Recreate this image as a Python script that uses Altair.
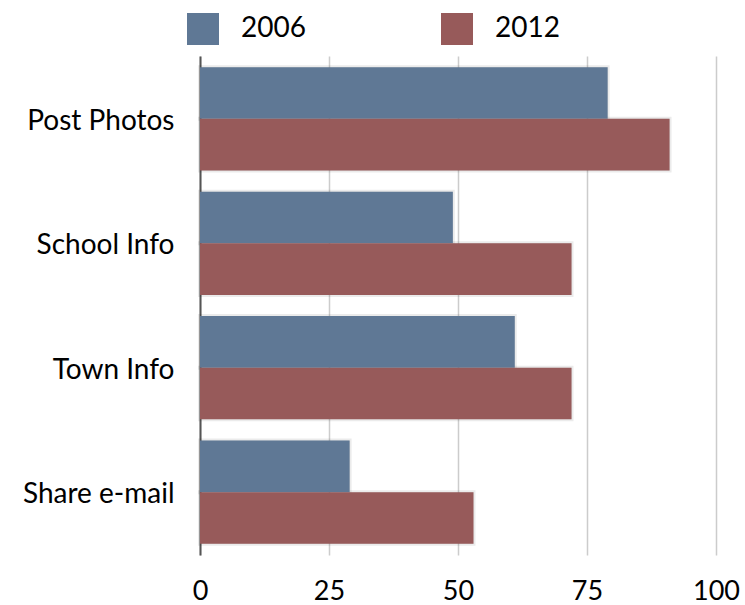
import altair as alt
import pandas as pd

# Share of respondents doing each activity, by survey year
activities = ["Post Photos", "School Info", "Town Info", "Share e-mail"]
years = ["2006", "2012"]
values_2006 = [79, 49, 61, 29]
values_2012 = [91, 72, 72, 53]

rows = []
for act, v06, v12 in zip(activities, values_2006, values_2012):
    rows.append({"activity": act, "year": "2006", "value": v06})
    rows.append({"activity": act, "year": "2012", "value": v12})
df = pd.DataFrame(rows)

FONT = "Lato"
BLUE = "#5f7895"
RED = "#975a5a"

y_enc = alt.Y(
    "activity:N",
    sort=activities,
    title=None,
    scale=alt.Scale(paddingInner=0.17, paddingOuter=0.09),
    axis=alt.Axis(
        domain=True,
        domainColor="#555555",
        domainWidth=2,
        ticks=False,
        grid=False,
        labelFont=FONT,
        labelFontSize=28,
        labelColor="#000000",
        labelPadding=26,
        labelAlign="right",
        labelLimit=300,
        labelOffset=3,
    ),
)
x_enc = alt.X(
    "value:Q",
    title=None,
    scale=alt.Scale(domain=[0, 100], nice=False),
    axis=alt.Axis(
        values=[0, 25, 50, 75, 100],
        domain=False,
        ticks=False,
        grid=True,
        gridColor="#cccccc",
        gridWidth=1.5,
        labelFont=FONT,
        labelFontSize=27,
        labelColor="#000000",
        labelPadding=23,
        labelFlush=False,
    ),
)
y_off = alt.YOffset("year:N", sort=years)

# soft drop shadow behind each bar
shadow = alt.Chart(df).mark_bar(
    fill="#000000",
    fillOpacity=0.10,
    stroke="#000000",
    strokeOpacity=0.08,
    strokeWidth=4,
    x2Offset=2,
    yOffset=1,
    y2Offset=1,
).encode(x=x_enc, y=y_enc, yOffset=y_off)

bars = alt.Chart(df).mark_bar().encode(
    x=x_enc,
    y=y_enc,
    yOffset=y_off,
    color=alt.Color(
        "year:N",
        sort=years,
        scale=alt.Scale(domain=years, range=[BLUE, RED]),
        legend=alt.Legend(
            title=None,
            orient="none",
            direction="horizontal",
            legendX=-13,
            legendY=-43,
            symbolType="square",
            symbolSize=1024,
            symbolStrokeWidth=0,
            symbolOpacity=1,
            labelFont=FONT,
            labelFontSize=28,
            labelColor="#000000",
            labelOffset=22,
            columnPadding=135,
        ),
    ),
)

chart = (
    alt.layer(shadow, bars)
    .properties(
        width=516,
        height=499,
        padding={"left": 200, "top": 56, "right": 29, "bottom": 50},
        autosize=alt.AutoSizeParams(type="none"),
    )
    .configure_view(stroke=None)
    .configure_axisY(domain=True)
)

chart.save("out.html", embed_options={"renderer": "svg", "actions": False})
